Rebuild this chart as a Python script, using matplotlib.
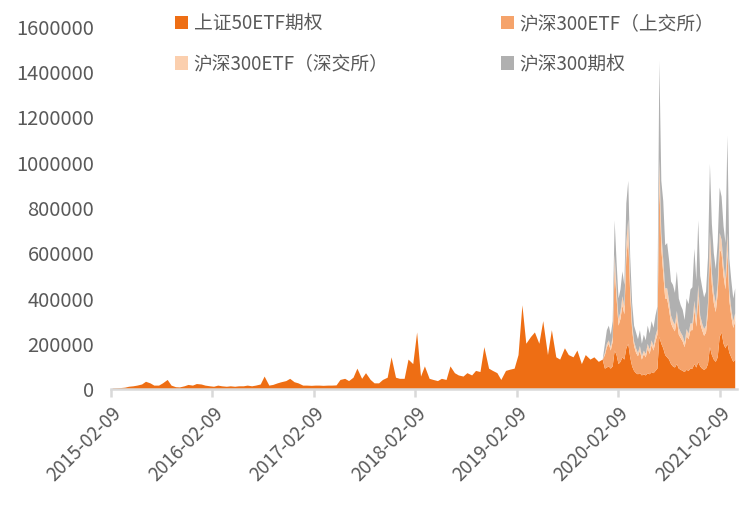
import numpy as np
import pandas as pd
import matplotlib
matplotlib.use("Agg")
import matplotlib.pyplot as plt
from matplotlib.ticker import FuncFormatter

plt.rcParams['font.family'] = ['Noto Sans CJK SC', 'DejaVu Sans']

# 上证50ETF期权 only, semi-monthly samples (千张)
dates_early = pd.date_range("2015-02-15", "2019-12-15", freq="SMS")
sz50_early = [
    2, 3, 4, 6, 10, 12, 15, 20, 32, 25, 15, 15, 25, 40, 15, 8, 7, 12, 18, 15, 22,
    20, 15, 12, 10, 15, 12, 10, 12, 10, 12, 12, 15, 12, 15, 20, 55, 15, 18, 25, 30, 35, 45, 30, 25,
    15, 15, 14, 15, 15, 14, 15, 15, 16, 40, 45, 35, 50, 90, 45, 70, 40, 25, 25, 40, 50, 140, 50, 45,
    45, 130, 110, 250, 55, 100, 45, 40, 35, 45, 40, 100, 70, 60, 55, 70, 60, 80, 75, 185, 90, 80, 70, 40,
    80, 85, 90, 150, 370, 200, 230, 250, 200, 300, 150, 260, 140, 130, 180, 150, 140, 170, 110, 150, 130, 140, 120, 130,
]

# after 2019-12-23 all four products, weekly samples (千张)
dates_late = pd.date_range("2019-12-23", periods=68, freq="7D")
sz50_late = [
    90, 95, 100, 90, 100, 170, 150, 110, 120, 140, 130, 180, 200, 140, 100, 80, 70, 65, 70, 60,
    65, 60, 70, 65, 75, 70, 80, 90, 230, 200, 180, 150, 140, 130, 110, 100, 95, 110, 90, 85,
    80, 75, 85, 80, 90, 90, 110, 95, 120, 100, 90, 85, 90, 110, 185, 150, 130, 120, 140, 230,
    250, 200, 180, 200, 160, 140, 120, 130,
]
hs300_sse = [
    60, 90, 100, 80, 110, 365, 250, 170, 190, 230, 200, 400, 470, 280, 160, 110, 90, 80, 100, 70,
    90, 80, 110, 90, 120, 100, 130, 150, 680, 420, 330, 250, 260, 220, 180, 170, 160, 200, 150, 140,
    130, 110, 150, 140, 170, 170, 240, 180, 290, 190, 170, 150, 160, 230, 430, 310, 250, 220, 280, 390,
    350, 300, 260, 410, 230, 180, 150, 170,
]
hs300_szse = [
    10, 15, 15, 15, 20, 60, 40, 30, 30, 40, 35, 70, 80, 45, 30, 20, 20, 15, 20, 15,
    15, 15, 20, 20, 20, 20, 25, 25, 110, 70, 60, 45, 45, 40, 35, 30, 30, 35, 30, 25,
    25, 20, 30, 25, 30, 30, 40, 35, 50, 35, 30, 30, 30, 40, 80, 55, 45, 40, 50, 70,
    60, 50, 45, 80, 45, 35, 30, 35,
]
hs300_idx = [
    40, 60, 65, 55, 70, 150, 120, 90, 100, 110, 95, 170, 170, 120, 90, 70, 70, 60, 70, 55,
    70, 60, 80, 70, 85, 80, 90, 100, 430, 230, 260, 190, 200, 180, 150, 160, 140, 175, 130, 120,
    115, 100, 135, 130, 150, 160, 230, 170, 285, 175, 160, 140, 150, 200, 300, 215, 175, 150, 180, 200,
    190, 170, 160, 430, 140, 125, 100, 110,
]

labels = ["上证50ETF期权", "沪深300ETF（上交所）", "沪深300ETF（深交所）", "沪深300期权"]
colors = ["#EE6E14", "#F5A36B", "#FBCFAE", "#B0B0B0"]
tick_dates = ["2015-02-09", "2016-02-09", "2017-02-09", "2018-02-09",
              "2019-02-09", "2020-02-09", "2021-02-09"]

dates = dates_early.append(dates_late)
pad = np.zeros(len(dates_early))
s1 = np.array(sz50_early + sz50_late) * 1000
s2 = np.concatenate([pad, hs300_sse]) * 1000
s3 = np.concatenate([pad, hs300_szse]) * 1000
s4 = np.concatenate([pad, hs300_idx]) * 1000

fig = plt.figure(figsize=(7.41, 5.13), dpi=100)
ax = fig.add_axes([0.1498, 0.2417, 0.845, 0.7057])

polys = ax.stackplot(dates, s1, s2, s3, s4, colors=colors, linewidth=0)

ax.set_ylim(0, 1600000)
ax.set_yticks(np.arange(0, 1600001, 200000))
ax.yaxis.set_major_formatter(FuncFormatter(lambda v, p: f"{int(v)}"))
ax.set_xlim(pd.Timestamp("2015-02-09"), pd.Timestamp("2021-04-12"))
ax.set_xticks(pd.to_datetime(tick_dates))
ax.set_xticklabels(tick_dates, rotation=45, ha="right", rotation_mode="anchor")

for side in ["top", "right", "left"]:
    ax.spines[side].set_visible(False)
ax.spines["bottom"].set_color("#D9D9D9")
ax.spines["bottom"].set_linewidth(1.8)
ax.tick_params(axis="y", length=0, labelsize=14.5, labelcolor="#595959", pad=12)
ax.tick_params(axis="x", length=6, width=1.8, color="#D9D9D9", labelsize=13.5,
               labelcolor="#595959", pad=4)

order = [0, 2, 1, 3]
ax.legend([polys[i] for i in order], [labels[i] for i in order], ncol=2, frameon=False,
          loc="upper left", bbox_to_anchor=(0.236, 0.975), bbox_transform=fig.transFigure,
          borderaxespad=0, borderpad=0, handlelength=0.7, handleheight=0.7,
          handletextpad=0.3, columnspacing=6.0, labelspacing=1.05,
          prop={"size": 13.5}, labelcolor="#595959")

fig.savefig("out.png", dpi=100)
